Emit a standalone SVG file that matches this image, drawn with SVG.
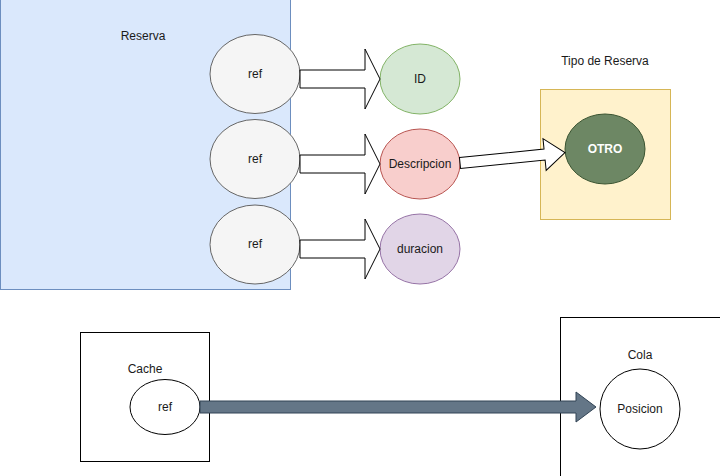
<svg xmlns="http://www.w3.org/2000/svg" width="720" height="476" viewBox="0 0 720 476">
  <style>
    text { font-family: "Liberation Sans", Arial, sans-serif; font-size: 12px; fill: #1a1a1a; text-anchor: middle; dominant-baseline: central; }
    .ref { fill: #f5f5f5; stroke: #666666; stroke-width: 1; }
    .block { fill: #ffffff; stroke: #000000; stroke-width: 1; stroke-linejoin: miter; }
    .plain { fill: #ffffff; stroke: #000000; stroke-width: 1; }
  </style>
  <rect width="720" height="476" fill="#ffffff"/>

  <!-- Reserva container -->
  <g id="reserva">
    <rect x="0.5" y="-10" width="290" height="299.5" fill="#dae8fc" stroke="#6c8ebf"/>
    <text x="143" y="36">Reserva</text>
  </g>

  <g id="ref1">
    <ellipse class="ref" cx="255" cy="74" rx="45" ry="39.5"/>
    <text x="255" y="74">ref</text>
  </g>
  <g id="ref2">
    <ellipse class="ref" cx="255" cy="159" rx="45" ry="39.5"/>
    <text x="255" y="159">ref</text>
  </g>
  <g id="ref3">
    <ellipse class="ref" cx="255" cy="244.5" rx="45" ry="39.5"/>
    <text x="255" y="244">ref</text>
  </g>

  <g id="id">
    <ellipse cx="420" cy="79" rx="40" ry="35" fill="#d5e8d4" stroke="#82b366"/>
    <text x="420" y="79">ID</text>
  </g>
  <g id="descripcion">
    <ellipse cx="420" cy="164" rx="40" ry="35" fill="#f8cecc" stroke="#b85450"/>
    <text x="420" y="164">Descripcion</text>
  </g>
  <g id="duracion">
    <ellipse cx="420" cy="249" rx="40" ry="35" fill="#e1d5e7" stroke="#9673a6"/>
    <text x="420" y="249">duracion</text>
  </g>

  <!-- Tipo de Reserva container -->
  <g id="tipo-reserva">
    <text x="605" y="61">Tipo de Reserva</text>
    <rect x="540.5" y="89.5" width="130" height="130" fill="#fff2cc" stroke="#d6b656"/>
  </g>
  <g id="otro">
    <ellipse cx="605" cy="149" rx="40" ry="35" fill="#6d8764" stroke="#3a5431"/>
    <text x="605" y="149" style="fill:#ffffff;font-weight:bold">OTRO</text>
  </g>

  <!-- Cache container -->
  <g id="cache">
    <rect class="plain" x="80.5" y="332.5" width="129" height="129"/>
    <text x="145" y="369">Cache</text>
  </g>
  <g id="cache-ref">
    <ellipse class="plain" cx="165" cy="407" rx="35" ry="27.5"/>
    <text x="165" y="407">ref</text>
  </g>

  <!-- Cola container -->
  <g id="cola">
    <rect class="plain" x="560.5" y="317.5" width="170" height="170"/>
    <text x="640" y="355">Cola</text>
  </g>
  <g id="posicion">
    <circle class="plain" cx="640" cy="409" r="40"/>
    <text x="640" y="409">Posicion</text>
  </g>

  <!-- Connectors -->
  <g id="connectors">
    <polygon class="block" points="300,70 365,70 365,49 380,79 365,109 365,88 300,88"/>
    <polygon class="block" points="300,155 365,155 365,134 380,164 365,194 365,173 300,173"/>
    <polygon class="block" points="300,240 365,240 365,219 380,249 365,279 365,258 300,258"/>
    <polygon class="block" transform="translate(460,163) rotate(-5.71)" points="0,-5.5 85,-5.5 85,-16 105.5,0 85,16 85,5.5 0,5.5"/>
    <polygon points="200,401 576,401 576,392 596,407 576,422 576,413 200,413" fill="#647687" stroke="#314354"/>
  </g>
</svg>
